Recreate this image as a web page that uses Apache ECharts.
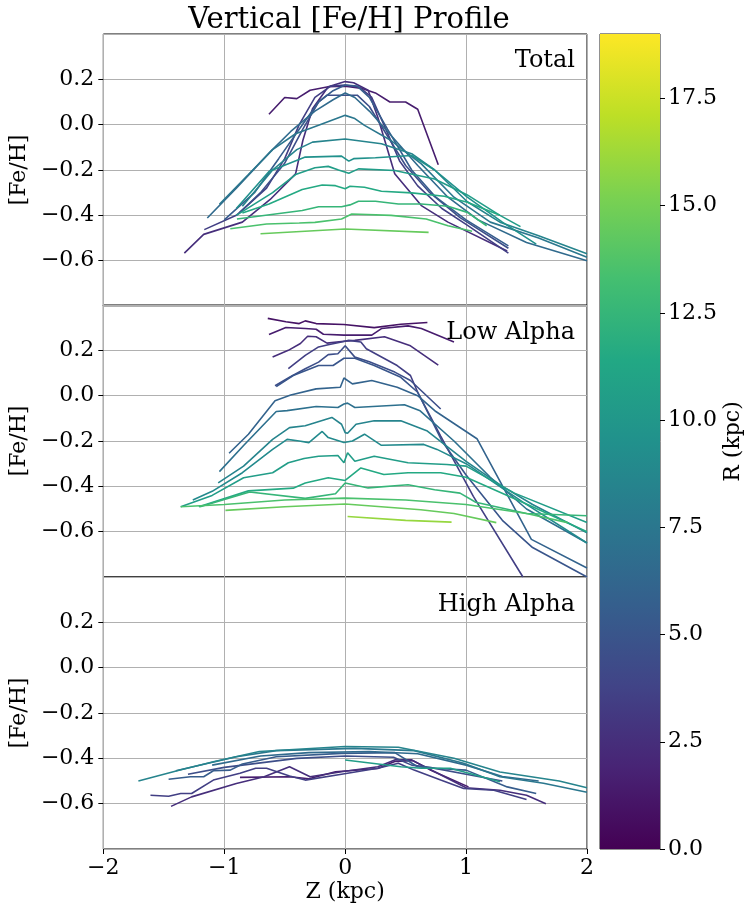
<!DOCTYPE html>
<html>
<head>
<meta charset="utf-8">
<script src="https://cdn.jsdelivr.net/npm/echarts@6/dist/echarts.min.js"></script>
<style>
  html, body { margin: 0; padding: 0; background: #fff; }
  #chart { width: 753px; height: 914px; }
</style>
</head>
<body>
<div id="chart"></div>
<script>
// colour scale of the bins (kpc)
const rMin = 0;
const rMax = 19;
const rTicks = [0, 2.5, 5, 7.5, 10, 12.5, 15, 17.5];
const zTicks = [-2, -1, 0, 1, 2];
const fehTicks = [-0.6, -0.4, -0.2, 0.0, 0.2];

// Total
const totalR = [1.5, 2.5, 3.5, 4.5, 5.5, 6.5, 7.5, 8.5, 9.5, 10.5, 11.5, 12.5, 13.5, 14.5];
const totalProfiles = [
  [[-0.63,0.046],[-0.50,0.12],[-0.40,0.115],[-0.29,0.152],[-0.14,0.167],[0,0.17],[0.14,0.16],[0.25,0.14],[0.37,0.10],[0.50,0.10],[0.60,0.068],[0.77,-0.177]],
  [[-1.33,-0.567],[-1.17,-0.484],[-0.85,-0.43],[-0.62,-0.33],[-0.41,-0.217],[-0.35,-0.07],[-0.27,0.07],[-0.14,0.167],[0,0.19],[0.07,0.185],[0.19,0.152],[0.27,0.033],[0.41,-0.217],[0.63,-0.357],[0.85,-0.43],[1.34,-0.557]],
  [[-1.165,-0.463],[-0.9,-0.40],[-0.65,-0.28],[-0.5,-0.15],[-0.38,0.0],[-0.25,0.12],[-0.12,0.17],[0,0.175],[0.12,0.165],[0.22,0.12],[0.32,0.0],[0.45,-0.16],[0.6,-0.27],[0.8,-0.37],[1.0,-0.44],[1.35,-0.567]],
  [[-0.87,-0.387],[-0.7,-0.3],[-0.5,-0.17],[-0.35,-0.02],[-0.22,0.1],[-0.15,0.13],[0.1,0.13],[0.2,0.08],[0.35,-0.05],[0.5,-0.18],[0.7,-0.3],[0.95,-0.41],[1.35,-0.545]],
  [[-1.0,-0.42],[-0.75,-0.30],[-0.55,-0.15],[-0.38,-0.02],[-0.22,0.1],[-0.1,0.15],[0,0.175],[0.1,0.17],[0.2,0.12],[0.35,-0.02],[0.55,-0.2],[0.75,-0.32],[1.0,-0.42],[1.35,-0.535]],
  [[-1.14,-0.412],[-0.9,-0.28],[-0.62,-0.12],[-0.45,-0.03],[-0.25,0.06],[-0.1,0.11],[0,0.14],[0.08,0.12],[0.2,0.06],[0.4,-0.06],[0.6,-0.18],[0.85,-0.32],[1.1,-0.42],[1.5,-0.52],[2.0,-0.60]],
  [[-1.04,-0.351],[-0.8,-0.22],[-0.6,-0.11],[-0.41,-0.04],[-0.22,-0.003],[0,0.041],[0.08,0.027],[0.16,-0.003],[0.38,-0.07],[0.63,-0.173],[0.9,-0.32],[1.2,-0.43],[1.6,-0.5],[2.0,-0.585]],
  [[-0.85,-0.36],[-0.6,-0.2],[-0.4,-0.11],[-0.27,-0.077],[0,-0.063],[0.3,-0.084],[0.55,-0.128],[0.74,-0.2],[1.01,-0.34],[1.28,-0.43],[1.6,-0.49],[2.0,-0.57]],
  [[-0.9,-0.37],[-0.63,-0.207],[-0.33,-0.143],[-0.03,-0.139],[0.03,-0.161],[0.07,-0.15],[0.25,-0.146],[0.55,-0.136],[0.74,-0.2],[1.01,-0.32],[1.3,-0.43],[1.58,-0.527]],
  [[-0.9,-0.4],[-0.6,-0.3],[-0.41,-0.22],[-0.25,-0.19],[-0.14,-0.184],[-0.055,-0.20],[0.03,-0.214],[0.11,-0.195],[0.41,-0.202],[0.74,-0.24],[1.01,-0.31],[1.28,-0.40],[1.45,-0.45]],
  [[-0.85,-0.39],[-0.63,-0.35],[-0.355,-0.286],[-0.19,-0.266],[-0.08,-0.269],[0,-0.283],[0.04,-0.272],[0.16,-0.276],[0.3,-0.294],[0.55,-0.301],[0.82,-0.316],[1.01,-0.342],[1.28,-0.40]],
  [[-0.895,-0.416],[-0.355,-0.379],[-0.22,-0.362],[-0.03,-0.362],[0.04,-0.354],[0.11,-0.338],[0.25,-0.338],[0.44,-0.35],[0.63,-0.35],[0.85,-0.36],[1.01,-0.387],[1.17,-0.446]],
  [[-0.95,-0.459],[-0.65,-0.438],[-0.38,-0.434],[-0.25,-0.431],[-0.03,-0.416],[0.055,-0.394],[0.38,-0.40],[0.67,-0.416],[0.85,-0.446],[1.05,-0.47]],
  [[-0.70,-0.481],[0,-0.46],[0.69,-0.475]]
];

// Low Alpha
const lowR = [1, 1.5, 2.5, 3.5, 4.5, 5, 6, 7, 8.5, 9, 10.5, 11.5, 12.5, 13.5, 14.5, 16];
const lowProfiles = [
  [[-0.64,0.341],[-0.49,0.326],[-0.38,0.318],[-0.33,0.33],[-0.24,0.318],[-0.01,0.314],[0.24,0.30],[0.46,0.315],[0.68,0.323]],
  [[-0.63,0.27],[-0.49,0.301],[-0.33,0.296],[-0.24,0.293],[-0.18,0.271],[-0.01,0.267],[0.22,0.267],[0.30,0.296],[0.52,0.308],[0.63,0.296],[0.90,0.237]],
  [[-0.60,0.171],[-0.47,0.20],[-0.37,0.23],[-0.31,0.262],[-0.24,0.26],[-0.15,0.232],[-0.01,0.24],[0.08,0.244],[0.325,0.26],[0.54,0.22],[0.77,0.135]],
  [[-0.47,0.119],[-0.33,0.178],[-0.22,0.215],[-0.14,0.225],[-0.03,0.237],[0.03,0.244],[0.13,0.237],[0.175,0.207],[0.43,0.133],[0.54,0.089],[0.6,0.015],[0.79,-0.178],[1.06,-0.444],[1.47,-0.80]],
  [[-0.58,0.044],[-0.46,0.081],[-0.33,0.119],[-0.22,0.148],[-0.14,0.181],[-0.06,0.185],[0,0.22],[0.08,0.17],[0.2,0.15],[0.41,0.104],[0.54,0.067],[0.79,-0.059]],
  [[-0.57,0.04],[-0.43,0.089],[-0.22,0.133],[-0.1,0.133],[-0.01,0.165],[0.08,0.165],[0.24,0.133],[0.46,0.081],[0.6,0.015],[0.8,-0.2],[1.0,-0.35],[1.3,-0.55],[1.55,-0.67],[2.0,-0.80]],
  [[-0.96,-0.254],[-0.80,-0.17],[-0.58,-0.022],[-0.45,0.003],[-0.24,0.03],[-0.04,0.037],[-0.01,0.078],[0.06,0.052],[0.22,0.067],[0.43,0.037],[0.6,0.0],[0.75,-0.07],[1.09,-0.19],[1.54,-0.634],[2.0,-0.76]],
  [[-1.04,-0.335],[-0.84,-0.22],[-0.57,-0.07],[-0.48,-0.066],[-0.24,-0.048],[-0.06,-0.052],[-0.01,-0.037],[0.02,-0.033],[0.08,-0.052],[0.49,-0.04],[0.62,-0.067],[0.9,-0.2],[1.2,-0.36],[1.5,-0.5],[2.0,-0.65]],
  [[-1.05,-0.385],[-0.84,-0.311],[-0.6,-0.193],[-0.46,-0.141],[-0.33,-0.133],[-0.11,-0.096],[-0.03,-0.126],[0.0,-0.163],[0.02,-0.166],[0.09,-0.126],[0.24,-0.111],[0.46,-0.111],[0.68,-0.156],[1.0,-0.29],[1.3,-0.4],[1.55,-0.48],[2.0,-0.605]],
  [[-1.26,-0.46],[-1.1,-0.422],[-0.85,-0.34],[-0.6,-0.237],[-0.48,-0.193],[-0.38,-0.2],[-0.3,-0.207],[-0.19,-0.158],[-0.14,-0.185],[-0.01,-0.207],[0.06,-0.2],[0.16,-0.17],[0.3,-0.219],[0.65,-0.215],[0.76,-0.237],[1.0,-0.3],[1.47,-0.47],[2.0,-0.65]],
  [[-1.36,-0.49],[-1.1,-0.44],[-0.84,-0.362],[-0.6,-0.34],[-0.47,-0.296],[-0.34,-0.277],[-0.22,-0.267],[-0.06,-0.264],[-0.01,-0.296],[0.02,-0.252],[0.08,-0.289],[0.24,-0.267],[0.52,-0.296],[0.84,-0.304],[1.0,-0.311],[1.4,-0.43],[2.0,-0.56]],
  [[-1.21,-0.49],[-0.8,-0.42],[-0.43,-0.408],[-0.33,-0.385],[-0.14,-0.362],[0,-0.374],[0.13,-0.319],[0.32,-0.348],[0.52,-0.34],[0.79,-0.34],[1.0,-0.36],[1.55,-0.49],[2.0,-0.6]],
  [[-1.2,-0.49],[-0.79,-0.425],[-0.33,-0.453],[-0.08,-0.433],[0,-0.385],[0.19,-0.407],[0.52,-0.393],[0.74,-0.415],[0.95,-0.43],[1.08,-0.47],[1.5,-0.52],[2.0,-0.53]],
  [[-1.36,-0.49],[-1.0,-0.48],[-0.5,-0.46],[0,-0.452],[0.5,-0.46],[1.0,-0.48],[1.5,-0.52],[1.84,-0.56]],
  [[-0.99,-0.506],[-0.5,-0.49],[0,-0.478],[0.625,-0.503],[0.9,-0.52],[1.25,-0.56]],
  [[0.02,-0.533],[0.5,-0.55],[0.88,-0.558]]
];

// High Alpha
const highR = [1.5, 2.5, 3.5, 4.5, 5.5, 6.5, 7.5, 8.5, 10.5];
const highProfiles = [
  [[-0.87,-0.484],[-0.46,-0.481],[-0.3,-0.49],[-0.08,-0.459],[0.27,-0.445],[0.41,-0.414],[0.56,-0.41],[0.7,-0.45],[1.02,-0.526]],
  [[-1.44,-0.612],[-1.27,-0.57],[-0.9,-0.511],[-0.67,-0.481],[-0.46,-0.437],[-0.29,-0.481],[-0.03,-0.459],[0.27,-0.437],[0.41,-0.407],[0.55,-0.407],[0.74,-0.459],[1.0,-0.53],[1.28,-0.541],[1.5,-0.563],[1.66,-0.6]],
  [[-1.61,-0.563],[-1.46,-0.567],[-1.36,-0.555],[-1.27,-0.555],[-1.09,-0.496],[-0.87,-0.466],[-0.74,-0.444],[-0.65,-0.444],[-0.46,-0.478],[-0.33,-0.496],[-0.03,-0.47],[0.27,-0.444],[0.44,-0.422],[0.57,-0.452],[0.79,-0.496],[0.98,-0.533],[1.23,-0.541],[1.5,-0.582]],
  [[-1.3,-0.47],[-1.0,-0.44],[-0.7,-0.42],[-0.4,-0.40],[0,-0.39],[0.4,-0.395],[0.55,-0.43],[0.7,-0.44],[1.0,-0.47],[1.3,-0.5]],
  [[-1.46,-0.492],[-1.28,-0.481],[-1.17,-0.481],[-1.09,-0.455],[-0.95,-0.452],[-0.85,-0.425],[-0.57,-0.393],[-0.03,-0.378],[0.41,-0.375],[0.6,-0.437],[0.74,-0.444],[1.0,-0.452],[1.34,-0.526],[1.58,-0.555]],
  [[-1.1,-0.43],[-0.7,-0.39],[-0.3,-0.375],[0.2,-0.37],[0.6,-0.38],[1.0,-0.43],[1.3,-0.48],[1.6,-0.5]],
  [[-1.40,-0.455],[-0.9,-0.393],[-0.57,-0.366],[0.08,-0.356],[0.57,-0.366],[0.98,-0.422],[1.28,-0.481],[1.64,-0.51],[2.0,-0.55]],
  [[-1.71,-0.50],[-1.39,-0.455],[-1.09,-0.415],[-0.71,-0.37],[0,-0.348],[0.44,-0.351],[0.9,-0.40],[1.28,-0.46],[1.77,-0.50],[2.0,-0.53]],
  [[0,-0.407],[0.46,-0.437],[0.63,-0.444],[0.87,-0.444],[1.28,-0.503]]
];

const VIRIDIS = ['#440154','#482475','#414487','#355f8d','#2a788e','#21918c','#22a884','#44bf70','#7ad151','#bddf26','#fde725'];

function hexRgb(h) {
  return [parseInt(h.slice(1,3),16), parseInt(h.slice(3,5),16), parseInt(h.slice(5,7),16)];
}
function viridis(t) {
  t = Math.max(0, Math.min(1, t));
  let p = t * (VIRIDIS.length - 1);
  let i = Math.min(Math.floor(p), VIRIDIS.length - 2);
  let f = p - i;
  let a = hexRgb(VIRIDIS[i]), b = hexRgb(VIRIDIS[i+1]);
  let c = a.map((v,k) => Math.round(v + (b[k]-v)*f));
  return 'rgb(' + c.join(',') + ')';
}

const FONT = 'DejaVu Serif';
const minus = s => String(s).replace('-', '\u2212');
const plotLeft = 101, plotWidth = 486;
const panelTops = [34, 305, 577];
const panelH = 272;

function profileSeries(profiles, rs, idx) {
  return profiles.map((pts, i) => ({
    type: 'line',
    xAxisIndex: idx,
    yAxisIndex: idx,
    data: pts,
    showSymbol: false,
    silent: true,
    z: 2 + i,
    lineStyle: { width: 1.6, color: viridis((rs[i] - rMin) / (rMax - rMin)) }
  }));
}

let chart = echarts.init(document.getElementById('chart'), null, { renderer: 'canvas' });

let grids = panelTops.map(t => ({
  left: plotLeft, top: t, width: plotWidth, height: panelH,
  show: true, borderColor: '#000', borderWidth: 1, backgroundColor: 'transparent'
}));
grids.push({ left: 600, top: 34, width: 60, height: 815, show: true, borderColor: '#222', borderWidth: 1 });

let xAxes = panelTops.map((t, i) => ({
  type: 'value', gridIndex: i, min: -2, max: 2, interval: 1,
  axisLine: { show: false, onZero: false },
  axisTick: { show: i === 2, length: 5, lineStyle: { color: '#000' } },
  axisLabel: { show: i === 2, fontFamily: FONT, fontSize: 22, color: '#000', margin: 8,
    formatter: v => zTicks.indexOf(v) >= 0 ? minus(v) : '' },
  splitLine: { show: true, lineStyle: { color: '#b0b0b0', width: 1 } },
  name: i === 2 ? 'Z (kpc)' : '',
  nameLocation: 'middle', nameGap: 32,
  nameTextStyle: { fontFamily: FONT, fontSize: 22, color: '#000' }
}));
xAxes.push({ type: 'category', gridIndex: 3, data: ['R'], show: false, boundaryGap: true });

let yAxes = panelTops.map((t, i) => ({
  type: 'value', gridIndex: i, min: -0.8, max: 0.4, interval: 0.2,
  axisLine: { show: false, onZero: false },
  axisTick: { show: true, length: 5, lineStyle: { color: '#000' } },
  axisLabel: {
    fontFamily: FONT, fontSize: 22, color: '#000', margin: 9,
    showMinLabel: false, showMaxLabel: false,
    formatter: v => fehTicks.some(f => Math.abs(f - v) < 1e-6) ? minus(v.toFixed(1)) : ''
  },
  splitLine: { show: true, lineStyle: { color: '#b0b0b0', width: 1 } },
  name: '[Fe/H]', nameLocation: 'middle', nameGap: 72,
  nameTextStyle: { fontFamily: FONT, fontSize: 22, color: '#000' }
}));
yAxes.push({
  type: 'value', gridIndex: 3, min: rMin, max: rMax, interval: 2.5, position: 'right',
  axisLine: { show: false, onZero: false },
  axisTick: { show: true, length: 5, lineStyle: { color: '#000' } },
  axisLabel: {
    fontFamily: FONT, fontSize: 22, color: '#000', margin: 8, showMaxLabel: false,
    formatter: v => rTicks.indexOf(v) >= 0 ? v.toFixed(1) : ''
  },
  splitLine: { show: false },
  name: 'R (kpc)', nameLocation: 'middle', nameGap: 62,
  nameTextStyle: { fontFamily: FONT, fontSize: 22, color: '#000' }
});

let cbStops = VIRIDIS.map((c, i) => ({ offset: i / (VIRIDIS.length - 1), color: c }));

let series = []
  .concat(profileSeries(totalProfiles, totalR, 0))
  .concat(profileSeries(lowProfiles, lowR, 1))
  .concat(profileSeries(highProfiles, highR, 2));
series.push({
  type: 'bar', xAxisIndex: 3, yAxisIndex: 3, data: [rMax], barWidth: '100%', silent: true,
  itemStyle: { color: new echarts.graphic.LinearGradient(0, 1, 0, 0, cbStops) }
});

let option = {
  animation: false,
  backgroundColor: '#fff',
  title: [
    { text: 'Vertical [Fe/H] Profile', left: plotLeft + plotWidth / 2, textAlign: 'center', top: 1,
      textStyle: { fontFamily: FONT, fontSize: 29, fontWeight: 'normal', color: '#000' } },
    { text: 'Total', right: 173, top: 44, textStyle: { fontFamily: FONT, fontSize: 24, fontWeight: 'normal', color: '#000' } },
    { text: 'Low Alpha', right: 173, top: 316, textStyle: { fontFamily: FONT, fontSize: 24, fontWeight: 'normal', color: '#000' } },
    { text: 'High Alpha', right: 173, top: 588, textStyle: { fontFamily: FONT, fontSize: 24, fontWeight: 'normal', color: '#000' } }
  ],
  grid: grids,
  xAxis: xAxes,
  yAxis: yAxes,
  series: series
};
chart.setOption(option);
</script>
</body>
</html>
